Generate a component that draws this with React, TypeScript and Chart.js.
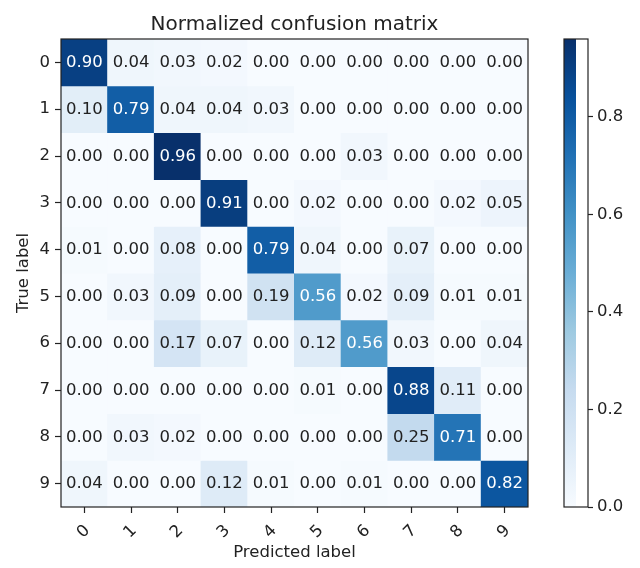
import React, { useEffect, useRef } from 'react';
import { Chart, registerables } from 'chart.js';

Chart.register(...registerables);

// ---- data ----
const TITLE = 'Normalized confusion matrix';
const X_TITLE = 'Predicted label';
const Y_TITLE = 'True label';
const PREDICTED_LABELS = ['0', '1', '2', '3', '4', '5', '6', '7', '8', '9'];
const TRUE_LABELS = ['0', '1', '2', '3', '4', '5', '6', '7', '8', '9'];

const ROW_0 = [0.90, 0.04, 0.03, 0.02, 0.00, 0.00, 0.00, 0.00, 0.00, 0.00];
const ROW_1 = [0.10, 0.79, 0.04, 0.04, 0.03, 0.00, 0.00, 0.00, 0.00, 0.00];
const ROW_2 = [0.00, 0.00, 0.96, 0.00, 0.00, 0.00, 0.03, 0.00, 0.00, 0.00];
const ROW_3 = [0.00, 0.00, 0.00, 0.91, 0.00, 0.02, 0.00, 0.00, 0.02, 0.05];
const ROW_4 = [0.01, 0.00, 0.08, 0.00, 0.79, 0.04, 0.00, 0.07, 0.00, 0.00];
const ROW_5 = [0.00, 0.03, 0.09, 0.00, 0.19, 0.56, 0.02, 0.09, 0.01, 0.01];
const ROW_6 = [0.00, 0.00, 0.17, 0.07, 0.00, 0.12, 0.56, 0.03, 0.00, 0.04];
const ROW_7 = [0.00, 0.00, 0.00, 0.00, 0.00, 0.01, 0.00, 0.88, 0.11, 0.00];
const ROW_8 = [0.00, 0.03, 0.02, 0.00, 0.00, 0.00, 0.00, 0.25, 0.71, 0.00];
const ROW_9 = [0.04, 0.00, 0.00, 0.12, 0.01, 0.00, 0.01, 0.00, 0.00, 0.82];
const MATRIX = [ROW_0, ROW_1, ROW_2, ROW_3, ROW_4, ROW_5, ROW_6, ROW_7, ROW_8, ROW_9];

const V_MIN = 0;
const V_MAX = 0.96;
const COLORBAR_TICKS = [0, 0.2, 0.4, 0.6, 0.8];

// matplotlib "Blues"
const BLUES = ['#f7fbff', '#deebf7', '#c6dbef', '#9ecae1', '#6baed6', '#4292c6', '#2171b5', '#08519c', '#08306b'];

// ---- helpers ----
const FONT_FAMILY = "'DejaVu Sans', sans-serif";
const TEXT_COLOR = '#222222';
const LABEL_SIZE = 16.5;

function hexToRgb(h: string) {
  const n = parseInt(h.slice(1), 16);
  return [(n >> 16) & 255, (n >> 8) & 255, n & 255];
}

function blues(v: number) {
  let t = (v - V_MIN) / (V_MAX - V_MIN);
  t = Math.max(0, Math.min(1, t));
  const pos = t * (BLUES.length - 1);
  const i = Math.min(BLUES.length - 2, Math.floor(pos));
  const f = pos - i;
  const a = hexToRgb(BLUES[i]);
  const b = hexToRgb(BLUES[i + 1]);
  const c = a.map((x, k) => Math.round(x + (b[k] - x) * f));
  return `rgb(${c[0]},${c[1]},${c[2]})`;
}

const cellTextPlugin = {
  id: 'cellText',
  afterDatasetsDraw(chart: any) {
    const ctx = chart.ctx;
    const a = chart.chartArea;
    ctx.save();
    ctx.font = `${LABEL_SIZE}px ${FONT_FAMILY}`;
    ctx.textAlign = 'center';
    ctx.textBaseline = 'middle';
    MATRIX.forEach((row, r) => {
      const meta = chart.getDatasetMeta(r);
      row.forEach((v, c) => {
        const el = meta.data[c];
        if (!el) return;
        const p = el.getCenterPoint();
        ctx.fillStyle = v > V_MAX / 2 ? '#ffffff' : TEXT_COLOR;
        ctx.fillText(v.toFixed(2), p.x, p.y + 0.5);
      });
    });
    // frame
    ctx.strokeStyle = TEXT_COLOR;
    ctx.lineWidth = 1.2;
    ctx.strokeRect(a.left, a.top, a.right - a.left, a.bottom - a.top);
    // title, centred over the axes like matplotlib
    ctx.font = `20px ${FONT_FAMILY}`;
    ctx.fillStyle = TEXT_COLOR;
    ctx.textBaseline = 'alphabetic';
    ctx.fillText(TITLE, (a.left + a.right) / 2, 30);
    ctx.restore();
  },
};

const colorbarFramePlugin = {
  id: 'cbFrame',
  afterDatasetsDraw(chart: any) {
    const ctx = chart.ctx;
    const a = chart.chartArea;
    ctx.save();
    ctx.strokeStyle = TEXT_COLOR;
    ctx.lineWidth = 1.2;
    ctx.strokeRect(a.left, a.top, a.right - a.left, a.bottom - a.top);
    ctx.restore();
  },
};

export default function App() {
  const mainRef = useRef<HTMLCanvasElement | null>(null);
  const cbRef = useRef<HTMLCanvasElement | null>(null);

  useEffect(() => {
    Chart.defaults.font.family = FONT_FAMILY;
    const labelFont = { family: FONT_FAMILY, size: LABEL_SIZE };

    const main = new Chart(mainRef.current as HTMLCanvasElement, {
      type: 'bar',
      data: {
        labels: PREDICTED_LABELS,
        datasets: MATRIX.map((row, r) => ({
          label: TRUE_LABELS[r],
          data: row.map(() => [r - 0.5, r + 0.5]),
          backgroundColor: row.map((v) => blues(v)),
          borderWidth: 0,
          barPercentage: 1,
          categoryPercentage: 1,
          grouped: false,
          inflateAmount: 0.5,
        })) as any,
      },
      options: {
        responsive: false,
        animation: false,
        events: [],
        devicePixelRatio: 1,
        layout: { padding: { left: 0, right: 112, top: 39, bottom: 0 } },
        plugins: {
          legend: { display: false },
          tooltip: { enabled: false },
          title: { display: false },
        },
        scales: {
          x: {
            type: 'category',
            offset: true,
            grid: { offset: false, drawOnChartArea: false, drawTicks: true, tickLength: 6, tickColor: TEXT_COLOR, tickWidth: 1.2 },
            border: { display: false },
            ticks: { color: TEXT_COLOR, font: labelFont, minRotation: 45, maxRotation: 45, autoSkip: false, padding: 8, labelOffset: 3 },
            title: { display: true, text: X_TITLE, color: TEXT_COLOR, font: labelFont, padding: { top: 0, bottom: 5 } },
            afterFit: (s: any) => { s.height = 61; },
          },
          y: {
            type: 'linear',
            min: -0.5,
            max: 9.5,
            reverse: true,
            afterBuildTicks: (s: any) => { s.ticks = TRUE_LABELS.map((_, i) => ({ value: i })); },
            grid: { drawOnChartArea: false, drawTicks: true, tickLength: 6, tickColor: TEXT_COLOR, tickWidth: 1.2 },
            border: { display: false },
            ticks: {
              color: TEXT_COLOR,
              font: labelFont,
              padding: 5,
              autoSkip: false,
              callback: (v: any) => TRUE_LABELS[Math.round(Number(v))],
            },
            title: { display: true, text: Y_TITLE, color: TEXT_COLOR, font: labelFont, padding: { top: 14, bottom: 0 } },
            afterFit: (s: any) => { s.width = 61; },
          },
        },
      },
      plugins: [cellTextPlugin],
    });

    const cb = new Chart(cbRef.current as HTMLCanvasElement, {
      type: 'bar',
      data: {
        labels: [''],
        datasets: [
          {
            data: [[V_MIN, V_MAX]] as any,
            backgroundColor: (c: any) => {
              const area = c.chart.chartArea;
              if (!area) return BLUES[4];
              const g = c.chart.ctx.createLinearGradient(0, area.bottom, 0, area.top);
              BLUES.forEach((col, i) => g.addColorStop(i / (BLUES.length - 1), col));
              return g;
            },
            borderWidth: 0,
            barPercentage: 1,
            categoryPercentage: 1,
            inflateAmount: 0,
          },
        ],
      },
      options: {
        responsive: false,
        animation: false,
        events: [],
        devicePixelRatio: 1,
        layout: { padding: { left: 24, right: 0, top: 39, bottom: 61 } },
        plugins: { legend: { display: false }, tooltip: { enabled: false }, title: { display: false } },
        scales: {
          x: { display: false, offset: false },
          y: {
            position: 'right',
            type: 'linear',
            min: V_MIN,
            max: V_MAX,
            afterBuildTicks: (s: any) => { s.ticks = COLORBAR_TICKS.map((v) => ({ value: v })); },
            grid: { drawOnChartArea: false, drawTicks: true, tickLength: 5, tickColor: TEXT_COLOR, tickWidth: 1.2 },
            border: { display: false },
            ticks: {
              color: TEXT_COLOR,
              font: labelFont,
              padding: 4,
              callback: (v: any) => Number(v).toFixed(1),
            },
            afterFit: (s: any) => { s.width = 52; },
          },
        },
      },
      plugins: [colorbarFramePlugin],
    });

    return () => {
      main.destroy();
      cb.destroy();
    };
  }, []);

  return (
    <div style={{ position: 'absolute', left: 0, top: 0, width: 640, height: 568, background: '#ffffff' }}>
      <canvas ref={mainRef} width={640} height={568} style={{ position: 'absolute', left: 0, top: 0, width: 640, height: 568 }} />
      <canvas ref={cbRef} width={100} height={568} style={{ position: 'absolute', left: 540, top: 0, width: 100, height: 568 }} />
    </div>
  );
}
